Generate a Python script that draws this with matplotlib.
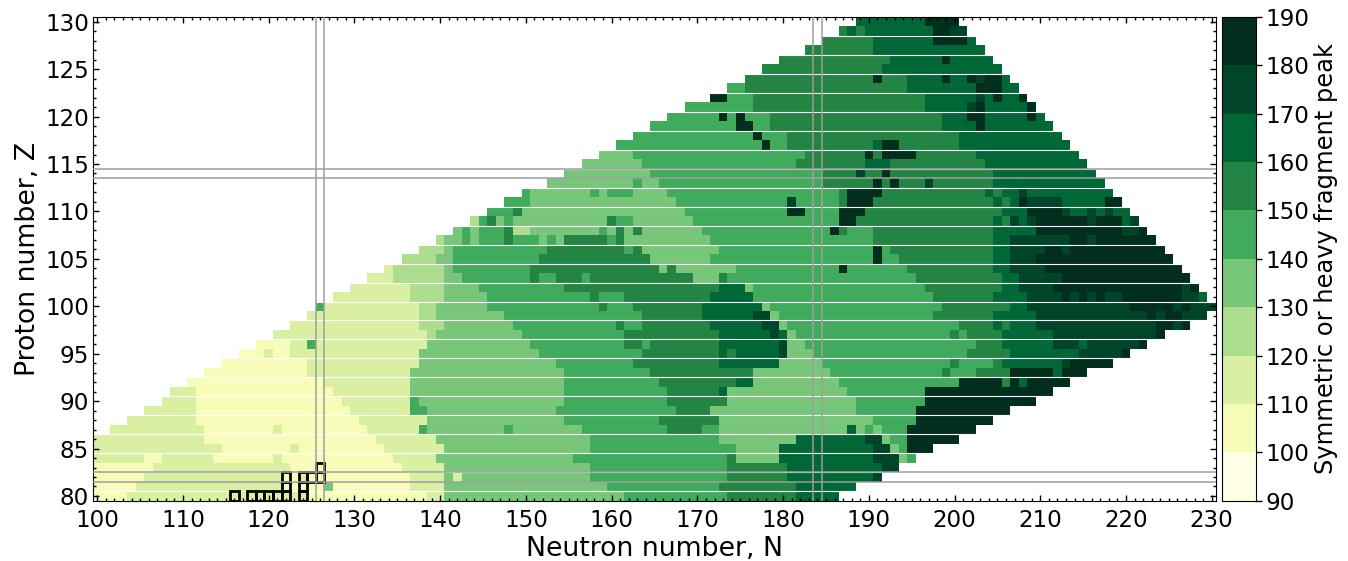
import matplotlib
matplotlib.use('Agg')
import matplotlib.pyplot as plt
import numpy as np
import matplotlib.ticker as ticker
from matplotlib.colors import ListedColormap, BoundaryNorm
from matplotlib.patches import Rectangle

# each row: (first N of the run, peak mass), last entry is the N where the row stops
z80 = [(100,105),(104,115),(125,105),(139,115),(141,135),(162,145),(174,155),(182,165),(187,None)]
z81 = [(100,105),(105,115),(122,105),(127,135),(128,105),(137,115),(141,135),(160,145),(173,155),(182,165),(189,None)]
z82 = [(100,105),(106,115),(122,105),(124,115),(125,105),(137,115),(141,135),(142,115),(143,135),(158,145),(174,155),(181,165),(191,175),(192,None)]
z83 = [(100,105),(107,115),(123,105),(136,115),(141,135),(158,145),(174,155),(181,165),(192,175),(194,None)]
z84 = [(100,115),(106,105),(108,115),(114,105),(121,115),(122,105),(135,115),(140,135),(156,145),(174,155),(175,135),(180,165),(191,175),(194,135),(195,145),(196,None)]
z85 = [(100,115),(115,105),(123,115),(124,105),(134,115),(141,135),(158,145),(175,135),(180,165),(191,175),(193,135),(194,145),(195,185),(198,None)]
z86 = [(100,115),(113,105),(133,115),(140,135),(158,145),(173,135),(182,165),(190,175),(192,135),(193,145),(195,185),(201,None)]
z87 = [(102,115),(113,105),(121,115),(122,105),(132,115),(138,145),(139,135),(148,145),(149,135),(157,145),(167,155),(171,145),(173,135),(188,165),(189,135),(190,145),(191,135),(192,145),(195,185),(203,None)]
z88 = [(104,115),(112,105),(131,115),(139,135),(155,145),(166,155),(173,135),(191,145),(196,185),(205,None)]
z89 = [(106,115),(112,105),(130,115),(137,145),(139,135),(154,145),(168,155),(172,135),(189,145),(196,185),(207,None)]
z90 = [(108,115),(112,105),(129,115),(137,145),(138,135),(155,145),(167,155),(174,135),(189,145),(197,185),(210,None)]
z91 = [(109,115),(112,105),(128,115),(137,135),(155,145),(167,155),(173,165),(174,135),(188,145),(197,185),(212,None)]
z92 = [(111,105),(127,115),(137,135),(155,145),(166,155),(175,165),(177,135),(187,145),(201,185),(206,155),(207,185),(208,165),(209,185),(214,None)]
z93 = [(113,105),(125,115),(137,135),(155,145),(165,155),(177,135),(186,145),(199,155),(200,145),(203,155),(207,185),(212,165),(213,185),(216,None)]
z94 = [(115,105),(125,115),(138,135),(154,145),(163,155),(173,165),(180,135),(185,145),(200,155),(201,145),(205,155),(206,165),(213,175),(214,185),(219,None)]
z95 = [(117,105),(120,115),(121,105),(123,115),(138,135),(152,145),(164,155),(173,165),(174,155),(175,165),(180,175),(181,135),(184,145),(202,155),(207,165),(215,175),(220,185),(221,None)]
z96 = [(119,105),(123,115),(125,145),(126,115),(139,135),(151,145),(162,155),(164,145),(165,155),(173,165),(180,175),(181,135),(183,145),(203,155),(206,165),(212,175),(215,165),(216,175),(222,185),(223,None)]
z97 = [(121,115),(139,125),(140,135),(150,145),(162,155),(173,165),(179,175),(180,165),(181,135),(182,145),(200,155),(201,145),(202,155),(206,165),(212,175),(224,185),(225,None)]
z98 = [(123,115),(138,125),(141,135),(149,145),(161,155),(162,145),(164,155),(172,165),(178,175),(180,135),(181,145),(201,155),(205,165),(206,155),(207,165),(210,175),(224,185),(226,175),(227,185),(228,None)]
z99 = [(125,115),(138,125),(140,135),(148,145),(164,155),(171,165),(177,175),(179,135),(180,145),(198,155),(205,165),(210,175),(223,185),(224,175),(225,185),(227,175),(230,None)]
z100 = [(126,145),(127,115),(138,125),(140,135),(146,145),(159,155),(160,145),(163,155),(171,165),(178,135),(179,145),(199,155),(207,165),(209,175),(221,185),(226,175),(227,185),(228,175),(231,None)]
z101 = [(128,115),(137,125),(141,135),(146,145),(158,155),(159,145),(162,155),(172,165),(177,145),(198,155),(205,165),(209,175),(213,185),(214,175),(215,185),(216,175),(217,185),(218,175),(220,185),(227,175),(229,165),(230,None)]
z102 = [(130,115),(137,125),(141,135),(145,145),(155,155),(173,165),(176,135),(177,145),(197,155),(206,165),(208,175),(212,185),(227,175),(228,185),(229,None)]
z103 = [(132,115),(135,125),(141,135),(143,145),(151,155),(152,145),(154,155),(157,145),(158,155),(170,135),(173,155),(174,145),(196,155),(206,165),(208,175),(213,185),(228,None)]
z104 = [(134,115),(135,125),(141,135),(142,145),(151,155),(166,135),(167,155),(168,135),(175,145),(187,185),(188,145),(195,155),(205,165),(207,175),(211,185),(227,None)]
z105 = [(136,125),(140,135),(142,145),(152,155),(165,135),(172,145),(191,185),(192,145),(194,155),(205,165),(207,175),(210,185),(226,None)]
z106 = [(138,125),(141,135),(142,145),(153,155),(162,145),(163,155),(164,135),(173,145),(191,185),(192,145),(193,155),(205,165),(207,175),(211,185),(213,175),(214,185),(225,None)]
z107 = [(140,125),(141,135),(143,145),(144,135),(145,145),(148,155),(149,145),(152,135),(153,145),(154,135),(155,155),(160,145),(161,155),(162,135),(172,145),(191,155),(205,165),(207,175),(214,185),(216,175),(217,185),(224,None)]
z108 = [(142,135),(143,145),(144,135),(145,145),(148,155),(149,125),(151,135),(159,145),(160,135),(161,155),(162,135),(163,155),(164,135),(171,145),(186,185),(187,155),(188,145),(191,155),(205,165),(210,185),(220,175),(222,185),(223,None)]
z109 = [(144,125),(145,145),(146,155),(147,135),(148,145),(149,135),(160,155),(161,145),(163,135),(170,145),(187,185),(189,155),(205,165),(206,155),(207,175),(208,165),(209,175),(210,185),(216,175),(217,185),(220,165),(221,175),(222,None)]
z110 = [(146,145),(149,155),(150,135),(169,145),(181,185),(183,145),(187,185),(190,155),(206,165),(209,185),(213,175),(214,165),(216,175),(217,165),(218,175),(219,165),(221,None)]
z111 = [(148,145),(151,135),(168,145),(181,175),(182,145),(187,155),(188,185),(191,155),(205,165),(206,155),(207,165),(208,185),(209,175),(213,165),(218,185),(220,None)]
z112 = [(150,145),(151,135),(158,145),(159,135),(160,145),(163,135),(167,145),(187,155),(188,185),(192,155),(204,165),(205,155),(206,165),(208,175),(209,165),(219,None)]
z113 = [(153,135),(163,145),(164,135),(166,145),(185,155),(191,185),(192,155),(193,185),(194,155),(197,175),(198,155),(205,165),(218,None)]
z114 = [(155,135),(165,145),(185,155),(189,175),(190,155),(192,185),(193,155),(205,165),(217,None)]
z115 = [(157,135),(164,145),(182,155),(190,165),(193,155),(204,165),(216,None)]
z116 = [(159,135),(163,145),(183,155),(190,185),(191,155),(192,185),(196,155),(203,165),(215,None)]
z117 = [(161,145),(178,185),(179,145),(181,155),(191,165),(192,185),(194,155),(201,165),(214,None)]
z118 = [(163,145),(177,185),(178,145),(181,155),(201,165),(213,None)]
z119 = [(165,145),(175,185),(177,145),(179,155),(199,165),(203,185),(204,165),(212,None)]
z120 = [(167,145),(173,185),(174,145),(175,185),(176,145),(179,155),(199,165),(202,185),(204,165),(209,185),(210,165),(211,None)]
z121 = [(169,145),(177,155),(197,165),(202,175),(203,185),(204,165),(209,185),(210,None)]
z122 = [(172,185),(174,145),(177,155),(197,165),(203,175),(204,165),(205,185),(206,165),(208,185),(209,None)]
z123 = [(174,145),(176,155),(195,165),(203,185),(206,165),(208,None)]
z124 = [(176,155),(191,185),(192,155),(195,165),(199,185),(200,165),(202,185),(203,175),(204,185),(206,165),(207,None)]
z125 = [(178,155),(192,165),(206,None)]
z126 = [(180,155),(193,165),(199,185),(200,165),(205,None)]
z127 = [(183,155),(191,165),(204,None)]
z128 = [(185,155),(191,165),(198,185),(202,165),(203,None)]
z129 = [(187,155),(188,165),(189,155),(190,165),(198,185),(200,175),(202,None)]
z130 = [(189,165),(197,185),(201,None)]

rows = [z80, z81, z82, z83, z84, z85, z86, z87, z88, z89, z90, z91, z92, z93, z94, z95, z96,
        z97, z98, z99, z100, z101, z102, z103, z104, z105, z106, z107, z108, z109, z110, z111,
        z112, z113, z114, z115, z116, z117, z118, z119, z120, z121, z122, z123, z124, z125,
        z126, z127, z128, z129, z130]

# boxed nuclei
box_n = [116, 118, 119, 120, 121, 122, 124, 122, 124, 122, 124, 125, 126, 126]
box_z = [80, 80, 80, 80, 80, 80, 80, 81, 81, 82, 82, 82, 82, 83]

magic_n = [125.5, 126.5, 183.5, 184.5]
magic_z = [81.5, 82.5, 113.5, 114.5]

n_values = np.arange(100, 231)
z_values = np.arange(80, 131)
peak = np.full((len(z_values), len(n_values)), np.nan)
for i, row in enumerate(rows):
    for (n0, val), (n1, _) in zip(row[:-1], row[1:]):
        peak[i, n0 - 100:n1 - 100] = val

colors = ['#ffffe5', '#f7fcb9', '#d9f0a3', '#addd8e', '#78c679',
          '#41ab5d', '#238443', '#006837', '#004529', '#022e1e']
cmap = ListedColormap(colors)
norm = BoundaryNorm(np.arange(90, 200, 10), cmap.N)

W, H = 1348, 561
fig = plt.figure(figsize=(W/100, H/100), dpi=100)
ax = fig.add_axes([93/W, 1 - 500.7/H, (1216 - 93)/W, (500.7 - 17)/H])
cax = fig.add_axes([1222.3/W, 1 - 500.7/H, 33.7/W, (500.7 - 17)/H])

mesh = ax.pcolormesh(np.arange(99.5, 231), np.arange(79.5, 131), peak, cmap=cmap, norm=norm)
ax.hlines(np.arange(80.5, 130, 2), 99.5, 230.5, colors='white', linewidth=0.8, zorder=2)

for n, z in zip(box_n, box_z):
    ax.add_patch(Rectangle((n - 0.5, z - 0.5), 1, 1, fill=False, ec='black', lw=2, zorder=3))

for n in magic_n:
    ax.axvline(n, color='#9e9e9e', lw=1.1, zorder=4)
for z in magic_z:
    ax.axhline(z, color='#9e9e9e', lw=1.1, zorder=4)

ax.set_xlim(99.5, 230.5)
ax.set_ylim(79.5, 130.5)
ax.xaxis.set_major_locator(ticker.MultipleLocator(10))
ax.xaxis.set_minor_locator(ticker.MultipleLocator(1))
ax.yaxis.set_major_locator(ticker.MultipleLocator(5))
ax.yaxis.set_minor_locator(ticker.MultipleLocator(1))
ax.tick_params(which='both', direction='in', top=True, right=True, labelsize=16.6)
ax.tick_params(axis='x', which='major', pad=6)
ax.tick_params(axis='y', which='major', pad=3)
ax.tick_params(which='major', length=4.5, width=1)
ax.tick_params(which='minor', length=2.5, width=1)
ax.set_xlabel('Neutron number, N', fontsize=19.3, labelpad=3)
ax.set_ylabel('Proton number, Z', fontsize=19.3, labelpad=3)

cb = fig.colorbar(mesh, cax=cax, ticks=np.arange(90, 200, 10))
cb.ax.tick_params(labelsize=16.6, length=4, width=1, pad=3)
cb.ax.minorticks_off()
cb.set_label('Symmetric or heavy fragment peak', fontsize=17.4, labelpad=3)

fig.savefig('out.png', dpi=100)
